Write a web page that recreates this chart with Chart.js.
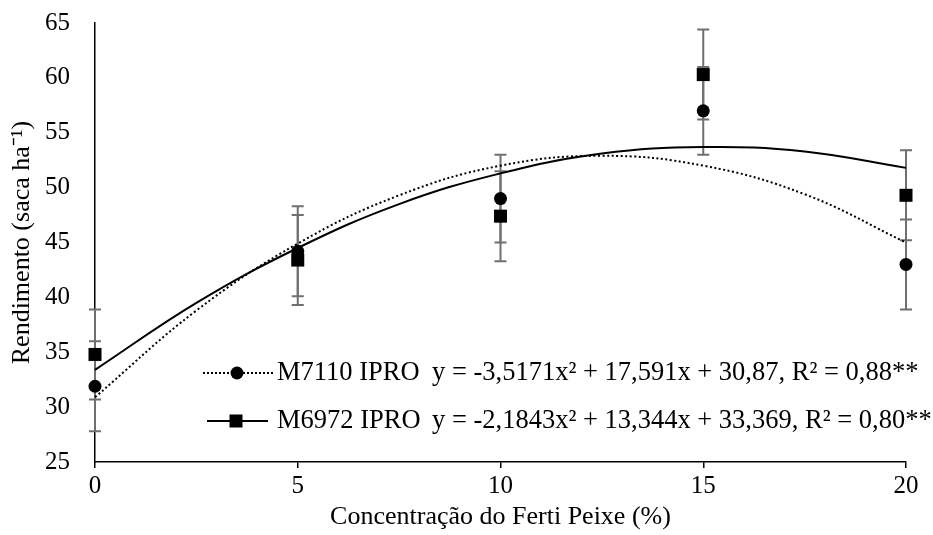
<!DOCTYPE html>
<html><head><meta charset="utf-8">
<script src="https://cdn.jsdelivr.net/npm/chart.js@4.4.0/dist/chart.umd.min.js"></script>
<style>html,body{margin:0;padding:0;background:#fff}#wrap{width:933px;height:535px}</style>
</head><body><div id="wrap"><canvas id="c" width="933" height="535"></canvas></div>
<script>
// ---- data ----
const concentrations = [0, 5, 10, 15, 20];
const m7110 = [31.9, 44.2, 49.0, 57.0, 43.0];
const m7110Err = [4.1, 4.1, 4.0, 4.0, 4.1];
const m6972 = [34.8, 43.4, 47.4, 60.3, 49.3];
const m6972Err = [4.1, 4.1, 4.1, 4.1, 4.1];
const trendX = [0, 2.5, 5, 7.5, 10, 12.5, 15, 17.5, 20];
const m7110Trend = [30.9, 38.8, 44.9, 49.3, 52.0, 52.9, 52.0, 49.4, 45.0];
const m6972Trend = [33.4, 39.5, 44.5, 48.5, 51.3, 53.1, 53.7, 53.3, 51.8];
const xTickValues = [0, 5, 10, 15, 20];
const yTickValues = [25, 30, 35, 40, 45, 50, 55, 60, 65];
const seriesNames = ['M7110 IPRO', 'M6972 IPRO'];
const equations = ['y = -3,5171x² + 17,591x + 30,87, R² = 0,88**',
                   'y = -2,1843x² + 13,344x + 33,369, R² = 0,80**'];
const xTitle = 'Concentração do Ferti Peixe (%)';
const yTitle = 'Rendimento (saca ha⁻¹)';

const FONT = '"Liberation Serif", "Times New Roman", serif';
const toXY = (xs, ys) => xs.map((x, i) => ({x: x, y: ys[i]}));

const errorBars = {
  id: 'errorBars',
  beforeDatasetsDraw(chart) {
    const {ctx, scales: {x, y}} = chart;
    ctx.save();
    ctx.strokeStyle = '#6f6f6f';
    ctx.lineWidth = 2;
    [[m7110, m7110Err], [m6972, m6972Err]].forEach(([vals, errs]) => {
      vals.forEach((v, i) => {
        const px = x.getPixelForValue(concentrations[i]);
        const top = y.getPixelForValue(v + errs[i]);
        const bot = y.getPixelForValue(v - errs[i]);
        ctx.beginPath();
        ctx.moveTo(px, top); ctx.lineTo(px, bot);
        ctx.moveTo(px - 6, top); ctx.lineTo(px + 6, top);
        ctx.moveTo(px - 6, bot); ctx.lineTo(px + 6, bot);
        ctx.stroke();
      });
    });
    ctx.restore();
  }
};

const legendBox = {
  id: 'legendBox',
  afterDraw(chart) {
    const {ctx, chartArea} = chart;
    const x0 = chartArea.left + 108;
    const rows = [chartArea.top + 350, chartArea.top + 398];
    ctx.save();
    ctx.fillStyle = '#000';
    ctx.strokeStyle = '#000';
    ctx.lineWidth = 2;
    // row 1: dotted + circle
    ctx.setLineDash([2, 2]);
    ctx.beginPath(); ctx.moveTo(x0, rows[0]); ctx.lineTo(x0 + 70, rows[0]); ctx.stroke();
    ctx.setLineDash([]);
    ctx.beginPath(); ctx.arc(x0 + 34, rows[0], 6.5, 0, Math.PI * 2); ctx.fill();
    // row 2: solid + square
    ctx.beginPath(); ctx.moveTo(x0 + 4, rows[1]); ctx.lineTo(x0 + 65, rows[1]); ctx.stroke();
    ctx.fillRect(x0 + 33 - 6.5, rows[1] - 6.5, 13, 13);
    ctx.font = '26.5px ' + FONT;
    ctx.textBaseline = 'middle';
    ctx.textAlign = 'left';
    for (let i = 0; i < 2; i++) {
      ctx.fillText(seriesNames[i], x0 + 74, rows[i]);
      ctx.fillText(equations[i], x0 + 229, rows[i]);
    }
    ctx.restore();
  }
};

new Chart(document.getElementById('c'), {
  type: 'scatter',
  data: {
    datasets: [
      {label: 'trend1', data: toXY(trendX, m7110Trend), showLine: true, pointRadius: 0, borderColor: '#000',
       borderWidth: 2, borderDash: [2, 2.5], tension: 0.4, fill: false, clip: false},
      {label: 'trend2', data: toXY(trendX, m6972Trend), showLine: true, pointRadius: 0, borderColor: '#000',
       borderWidth: 2, tension: 0.4, fill: false, clip: false},
      {label: seriesNames[1], data: toXY(concentrations, m6972), pointStyle: 'rect', pointRadius: 9.2,
       pointHoverRadius: 9.2, backgroundColor: '#000', borderColor: '#000', borderWidth: 0, showLine: false, clip: false},
      {label: seriesNames[0], data: toXY(concentrations, m7110), pointStyle: 'circle', pointRadius: 6.5,
       pointHoverRadius: 6.5, backgroundColor: '#000', borderColor: '#000', borderWidth: 0, showLine: false, clip: false}
    ]
  },
  options: {
    responsive: false,
    devicePixelRatio: 1,
    animation: false,
    layout: {padding: {left: 0, right: 27, top: 23, bottom: 0}},
    plugins: {legend: {display: false}, tooltip: {enabled: false}},
    scales: {
      x: {
        type: 'linear', min: 0, max: 20,
        afterBuildTicks: s => { s.ticks = xTickValues.map(v => ({value: v})); },
        afterFit: s => { s.height = 73; s.paddingLeft = 0; s.paddingRight = 0; },
        border: {display: true, color: '#000', width: 1.5},
        grid: {display: true, drawOnChartArea: false, drawTicks: true, tickLength: 6, color: '#000', lineWidth: 1.5},
        ticks: {color: '#000', font: {family: FONT, size: 25}, padding: 3, maxRotation: 0},
        title: {display: true, text: xTitle, color: '#000', font: {family: FONT, size: 26}, padding: {top: 0, bottom: 2}}
      },
      y: {
        type: 'linear', min: 25, max: 65,
        afterBuildTicks: s => { s.ticks = yTickValues.map(v => ({value: v})); },
        afterFit: s => { s.width = 95; s.paddingTop = 0; s.paddingBottom = 0; },
        border: {display: true, color: '#000', width: 1.5},
        grid: {display: true, drawOnChartArea: false, drawTicks: false},
        ticks: {color: '#000', font: {family: FONT, size: 25}, padding: 25},
        title: {display: true, text: yTitle, color: '#000', font: {family: FONT, size: 26}, padding: {top: 7, bottom: 0}}
      }
    }
  },
  plugins: [errorBars, legendBox]
});
</script></body></html>
